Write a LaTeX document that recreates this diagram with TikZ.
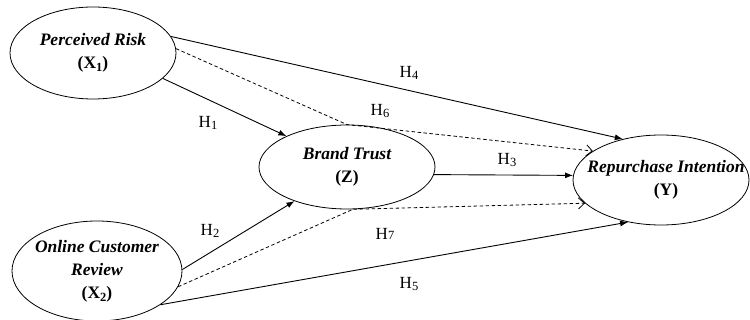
\documentclass[tikz,border=0pt]{standalone}
\usepackage{fontspec}
\setmainfont{Liberation Serif}
\usetikzlibrary{shapes.geometric,arrows.meta}
\newcommand{\lowsub}[1]{\raisebox{-0.35ex}{\fontsize{12.5}{12.5}\selectfont #1}}
\begin{document}
\begin{tikzpicture}[x=1pt,y=-1pt,
  construct/.style={draw,ellipse,inner sep=0pt,line width=0.8pt},
  ctext/.style={align=center,inner sep=0pt,
    font=\fontsize{17.5}{23}\selectfont\bfseries\itshape},
  hyp/.style={font=\fontsize{17}{18}\selectfont},
  path/.style={line width=0.9pt,-{Latex[length=8pt,width=6pt]}},
  indirect/.style={line width=0.8pt,dash pattern=on 3.5pt off 2.5pt,
    -{Straight Barb[length=6pt,width=11pt,line width=0.8pt]}}]
\useasboundingbox (0,0) rectangle (750,320);
% latent constructs (outline sized independently of the text)
\node[construct,minimum width=166pt,minimum height=92pt,
  label={[ctext]center:Perceived Risk\\{\upshape(X\lowsub{1})}}] (pr) at (93,53) {};
\node[construct,minimum width=170pt,minimum height=100pt,
  label={[ctext]center:Online Customer\\Review\\{\upshape(X\lowsub{2})}}] (ocr) at (97,271) {};
\node[construct,minimum width=176pt,minimum height=84pt,
  label={[ctext]center:Brand Trust\\{\upshape(Z)}}] (bt) at (347,167) {};
\node[construct,minimum width=176pt,minimum height=90pt,
  label={[ctext,xshift=5pt]center:Repurchase Intention\\{\upshape(Y)}}] (ri) at (661,180) {};
% direct effects
\draw[path] (pr.-20) -- (bt.153);
\draw[path] (ocr.1) -- (bt.-147);
\draw[path] (bt.-5) -- (ri.177);
\draw[path] (pr.12) -- (ri.133);
\draw[path] (ocr.-28) -- (ri.-128);
% mediated effects through brand trust
\draw[indirect] (pr.3) -- (bt.north) -- (ri.157);
\draw[indirect] (ocr.-11) -- (bt.-82) -- (ri.-163);
% hypothesis labels
\node[hyp] (h1) at (208,123) {H\lowsub{1}};
\node[hyp] (h2) at (210,231) {H\lowsub{2}};
\node[hyp] (h3) at (507,160) {H\lowsub{3}};
\node[hyp] (h4) at (409,73) {H\lowsub{4}};
\node[hyp] (h5) at (409,284) {H\lowsub{5}};
\node[hyp] (h6) at (380,111) {H\lowsub{6}};
\node[hyp] (h7) at (385,234) {H{\fontsize{12.5}{12.5}\selectfont 7}};
\end{tikzpicture}
\end{document}
